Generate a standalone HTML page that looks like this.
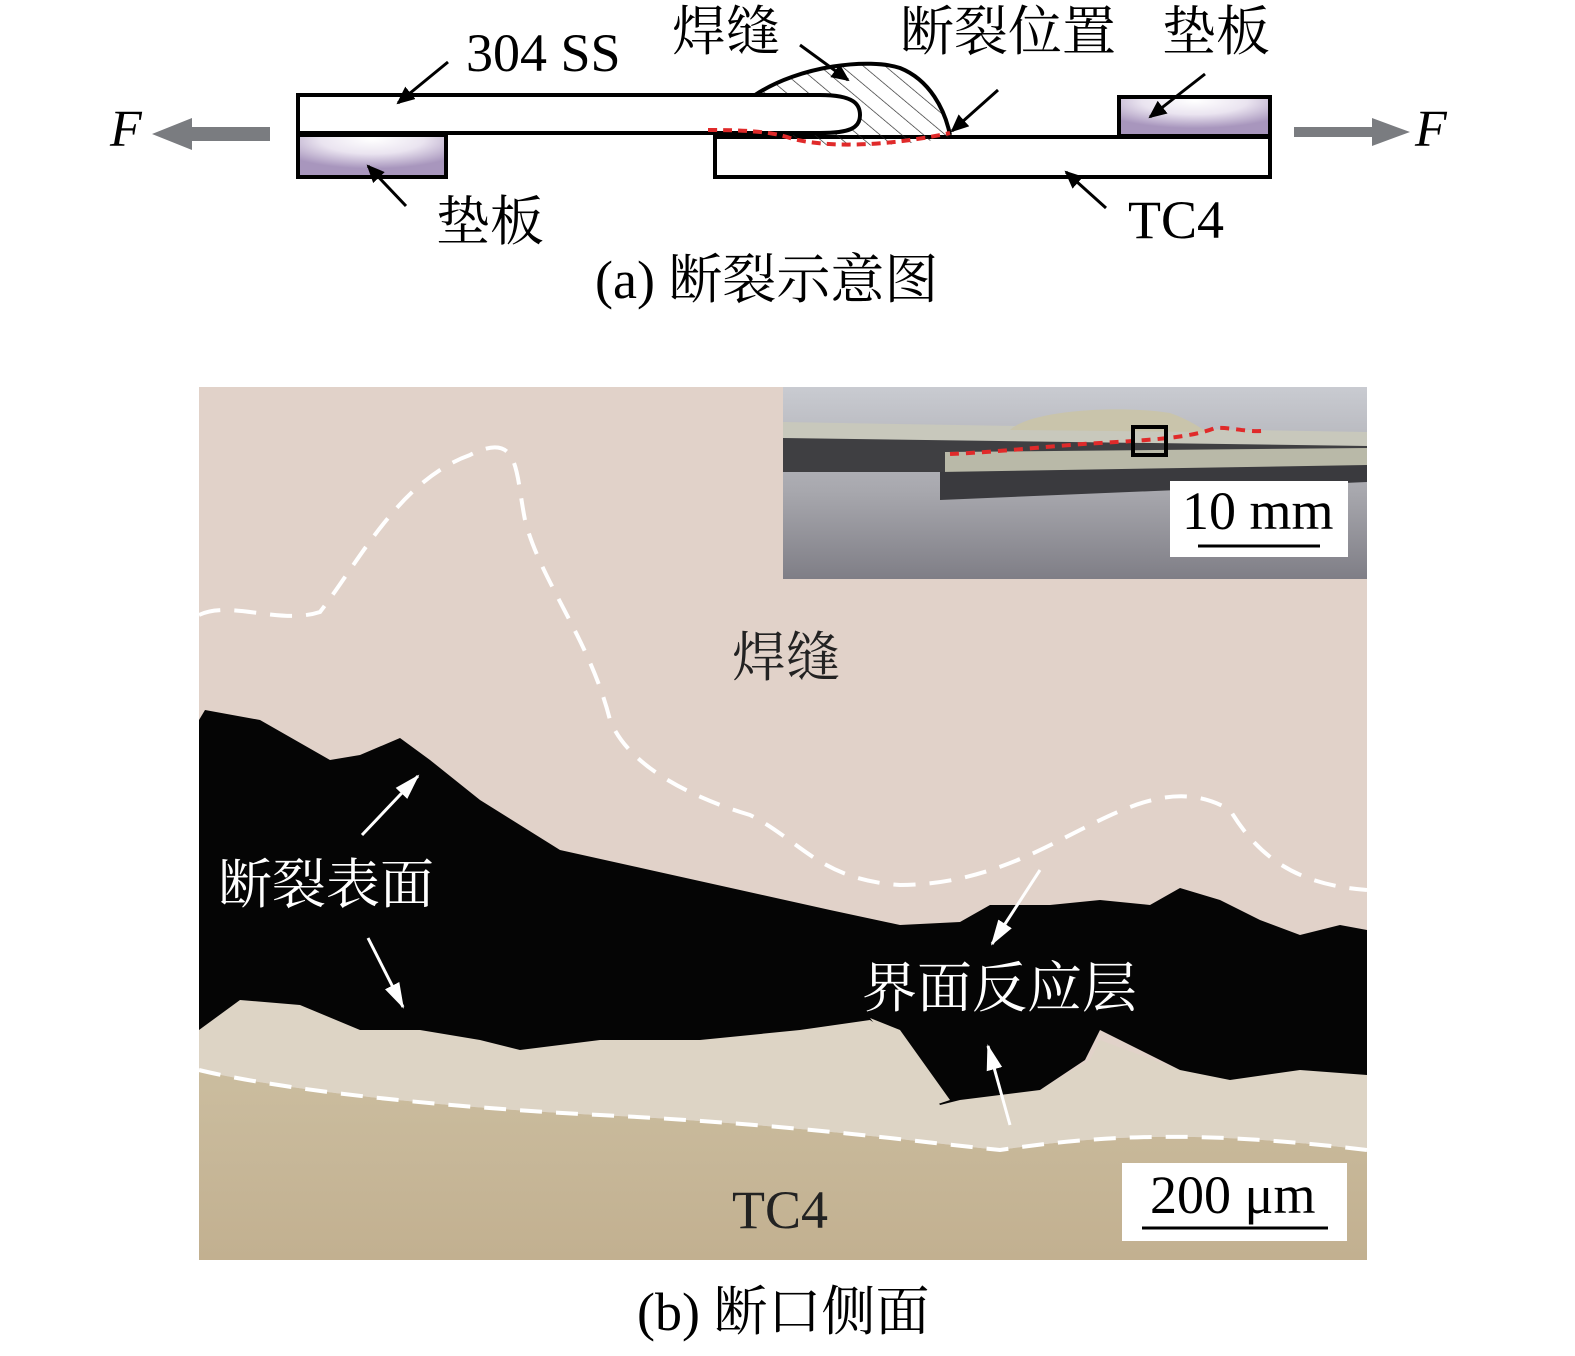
<!DOCTYPE html>
<html><head><meta charset="utf-8"><style>
html,body{margin:0;padding:0;background:#fff;}
svg{display:block;}
text{font-family:"Liberation Serif","Noto Serif CJK SC",serif;}
</style></head><body>
<svg width="1575" height="1356" viewBox="0 0 1575 1356" xmlns="http://www.w3.org/2000/svg">
<defs>
<radialGradient id="pad" cx="0.5" cy="0.1" r="0.7">
<stop offset="0" stop-color="#ffffff"/><stop offset="0.5" stop-color="#eae4f0"/><stop offset="1" stop-color="#a896bd"/>
</radialGradient>
<pattern id="hatch" width="14" height="14" patternUnits="userSpaceOnUse" patternTransform="rotate(-50)">
<line x1="0" y1="0" x2="0" y2="14" stroke="#222" stroke-width="1.3"/>
</pattern>
<marker id="ah" markerWidth="18" markerHeight="16" refX="16" refY="8" orient="auto" markerUnits="userSpaceOnUse" viewBox="0 0 18 16">
<path d="M0,0 L18,8 L0,16 z" fill="#000"/></marker>
<marker id="ahw" markerWidth="26" markerHeight="20" refX="24" refY="10" orient="auto" markerUnits="userSpaceOnUse" viewBox="0 0 26 20">
<path d="M0,2 L26,10 L0,18 z" fill="#fff"/></marker>
<linearGradient id="tc4" x1="0" y1="0" x2="0" y2="1"><stop offset="0" stop-color="#cbbd9f"/><stop offset="1" stop-color="#c2b090"/></linearGradient>
<linearGradient id="bg" x1="0" y1="0" x2="0" y2="1"><stop offset="0" stop-color="#c9cbd1"/><stop offset="0.55" stop-color="#a7a7ad"/><stop offset="1" stop-color="#7f7e86"/></linearGradient>
</defs>

<polygon points="270,127 192,127 192,118 152,134 192,150 192,141 270,141" fill="#7a7c80"/>
<polygon points="1294,127 1372,127 1372,118 1410,132 1372,146 1372,137 1294,137" fill="#7a7c80"/>
<text x="110" y="146" font-size="52" font-style="italic">F</text>
<text x="1415" y="146" font-size="52" font-style="italic">F</text>

<rect x="715" y="137" width="555" height="40" fill="#fff" stroke="#000" stroke-width="4"/>
<rect x="298" y="135" width="148" height="42" fill="url(#pad)" stroke="#000" stroke-width="4"/>
<rect x="1119" y="97" width="151" height="39" fill="url(#pad)" stroke="#000" stroke-width="4"/>
<path d="M755,95 C800,65 870,58 900,68 C930,80 945,110 950,135 L950,137 C900,148 820,148 790,140 L760,133 Z" fill="url(#hatch)"/>
<path d="M755,95 C800,65 870,58 900,68 C930,80 945,110 950,135" fill="none" stroke="#000" stroke-width="4"/>
<path d="M298,95 L820,95 C855,95 860,105 860,115 C860,128 850,133 820,133 L298,133 Z" fill="#fff" stroke="#000" stroke-width="4"/>
<path d="M708,130 C740,130 770,131 790,138 C820,147 880,148 950,133" fill="none" stroke="#e02a2a" stroke-width="4" stroke-dasharray="9,6"/>

<line x1="448" y1="62" x2="398" y2="103" stroke="#000" stroke-width="3" marker-end="url(#ah)"/>
<line x1="800" y1="45" x2="848" y2="80" stroke="#000" stroke-width="3" marker-end="url(#ah)"/>
<line x1="998" y1="90" x2="952" y2="131" stroke="#000" stroke-width="3" marker-end="url(#ah)"/>
<line x1="1205" y1="74" x2="1150" y2="117" stroke="#000" stroke-width="3" marker-end="url(#ah)"/>
<line x1="406" y1="206" x2="368" y2="166" stroke="#000" stroke-width="3" marker-end="url(#ah)"/>
<line x1="1106" y1="208" x2="1066" y2="172" stroke="#000" stroke-width="3" marker-end="url(#ah)"/>

<text x="466" y="71" font-size="54">304 SS</text>
<text x="672" y="50" font-size="54">焊缝</text>
<text x="900" y="50" font-size="54">断裂位置</text>
<text x="1162" y="50" font-size="54">垫板</text>
<text x="436" y="240" font-size="54">垫板</text>
<text x="1128" y="238" font-size="54">TC4</text>
<text x="595" y="298" font-size="54">(a) 断裂示意图</text>

<rect x="199" y="387" width="1168" height="873" fill="#e6d5c6"/>
<rect x="199" y="387" width="1168" height="873" fill="#d7cfcf" opacity="0.35"/>
<path d="M199,1070 C260,1085 400,1105 600,1115 C800,1125 900,1140 1000,1150 C1100,1135 1200,1130 1367,1150 L1367,1260 L199,1260 Z" fill="url(#tc4)"/>
<path d="M199,1030 L240,1000 L300,1005 L360,1030 L420,1030 L480,1040 L520,1050 L600,1040 L700,1040 L800,1030 L870,1020 L900,1040 L940,1105 L960,1100 L1040,1090 L1090,1060 L1100,1040 L1180,1070 L1230,1080 L1300,1070 L1367,1075 L1367,1150 C1200,1130 1100,1135 1000,1150 C900,1140 800,1125 600,1115 C400,1105 260,1085 199,1070 Z" fill="#ddd4c5"/>
<path d="M199,720 L205,710 L260,720 L330,760 L360,755 L400,738 L430,760 L480,800 L560,850 L650,870 L740,890 L830,910 L900,925 L960,922 L990,905 L1050,905 L1100,900 L1150,905 L1180,888 L1220,900 L1260,920 L1300,935 L1340,925 L1367,930 L1367,1075 L1300,1070 L1230,1080 L1180,1070 L1100,1030 L1085,1060 L1040,1090 L960,1100 L940,1105 L900,1040 L870,1020 L800,1030 L700,1040 L600,1040 L520,1050 L480,1040 L420,1030 L360,1030 L300,1005 L240,1000 L199,1030 Z" fill="#050505"/>
<path d="M870,1018 L900,1030 L950,1100 L935,1105 Z" fill="#ddd4c5"/>
<path d="M199,615 C230,600 280,625 320,612 C360,560 400,480 470,455 C520,430 515,470 525,520 C540,580 590,640 610,720 C630,770 700,800 750,815 C800,840 820,880 900,885 C980,885 1040,850 1080,830 C1130,805 1180,780 1230,810 C1260,860 1300,885 1367,890" fill="none" stroke="#fff" stroke-width="4" stroke-dasharray="22,14"/>
<path d="M199,1070 C260,1085 400,1105 600,1115 C800,1125 900,1140 1000,1150 C1100,1135 1200,1130 1367,1150" fill="none" stroke="#fff" stroke-width="4" stroke-dasharray="22,14"/>

<line x1="362" y1="835" x2="418" y2="776" stroke="#fff" stroke-width="3" marker-end="url(#ahw)"/>
<line x1="368" y1="938" x2="403" y2="1007" stroke="#fff" stroke-width="3" marker-end="url(#ahw)"/>
<line x1="1040" y1="870" x2="992" y2="944" stroke="#fff" stroke-width="3" marker-end="url(#ahw)"/>
<line x1="1010" y1="1125" x2="988" y2="1046" stroke="#fff" stroke-width="3" marker-end="url(#ahw)"/>

<text x="732" y="676" font-size="54" fill="#222">焊缝</text>
<text x="218" y="903" font-size="54" fill="#fff">断裂表面</text>
<text x="862" y="1007" font-size="55" fill="#fff">界面反应层</text>
<text x="732" y="1228" font-size="54" fill="#222">TC4</text>

<rect x="1122" y="1163" width="225" height="78" fill="#fff"/>
<text x="1150" y="1213" font-size="54">200 μm</text>
<line x1="1142" y1="1228" x2="1328" y2="1228" stroke="#000" stroke-width="3"/>

<rect x="783" y="387" width="584" height="192" fill="url(#bg)"/>
<rect x="783" y="432" width="584" height="40" fill="#3f3f42"/>
<path d="M783,422 L1367,432 L1367,446 L783,438 Z" fill="#c8c8bc"/>
<path d="M945,452 L1367,448 L1367,470 L945,474 Z" fill="#b9b9a8"/>
<path d="M940,472 L1367,465 L1367,482 L940,500 Z" fill="#3a3a3e"/>
<path d="M1010,430 C1030,410 1120,405 1170,413 C1190,420 1200,428 1208,432 Z" fill="#c9c4ab"/>
<path d="M950,454 C1000,452 1060,445 1100,443 C1150,440 1190,438 1215,428 C1230,427 1245,432 1262,431" fill="none" stroke="#e02a2a" stroke-width="4" stroke-dasharray="9,7"/>
<rect x="1133" y="427" width="33" height="28" fill="none" stroke="#000" stroke-width="4"/>
<rect x="1170" y="481" width="178" height="76" fill="#fff"/>
<text x="1182" y="529" font-size="54">10 mm</text>
<line x1="1198" y1="546" x2="1320" y2="546" stroke="#000" stroke-width="3"/>

<text x="637" y="1330" font-size="54">(b) 断口侧面</text>
</svg>
</body></html>
